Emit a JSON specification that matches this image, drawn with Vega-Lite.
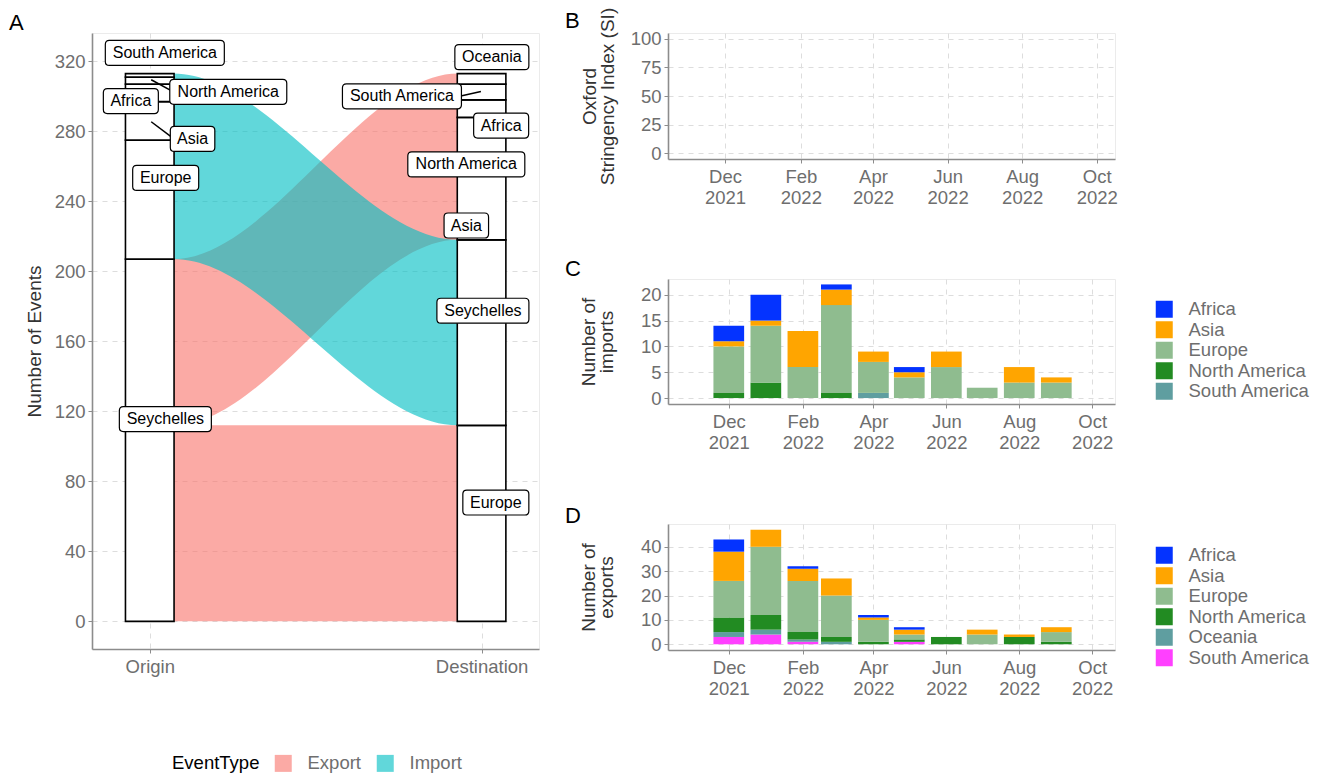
{
  "$schema": "https://vega.github.io/schema/vega-lite/v6.json",
  "padding": {"left": 8, "top": 6, "right": 5, "bottom": 0},
  "config": {
    "font": "Liberation Sans",
    "view": {"stroke": "#ebebeb"},
    "axis": {"labelFontSize": 18.5, "labelColor": "#6e6e6e", "titleFontSize": 19, "titleFontWeight": "normal", "titleColor": "#333333", "gridDash": [5, 5], "gridColor": "#dddddd", "domainColor": "#8c8c8c", "domainWidth": 1.6, "tickColor": "#8c8c8c", "tickSize": 4, "labelPadding": 3},
    "title": {"fontSize": 22, "fontWeight": "normal", "color": "black", "anchor": "start", "frame": "group", "offset": 0},
    "legend": {"labelFontSize": 18.5, "labelColor": "#6e6e6e", "titleFontSize": 18.5, "titleFontWeight": "normal", "titleColor": "black", "symbolType": "square", "symbolSize": 289, "symbolStrokeWidth": 0}
  },
  "datasets": {
    "flows": [
      {"flow": "Seychelles to Europe", "EventType": "Export", "x": 1, "y": 0, "y2": 112},
      {"flow": "Seychelles to Europe", "EventType": "Export", "x": 1.0714, "y": 0, "y2": 112},
      {"flow": "Seychelles to Europe", "EventType": "Export", "x": 1.9286, "y": 0, "y2": 112},
      {"flow": "Seychelles to Europe", "EventType": "Export", "x": 2, "y": 0, "y2": 112},
      {"flow": "Seychelles to other regions", "EventType": "Export", "x": 1, "y": 112, "y2": 207},
      {"flow": "Seychelles to other regions", "EventType": "Export", "x": 1.0714, "y": 112, "y2": 207},
      {"flow": "Seychelles to other regions", "EventType": "Export", "x": 1.9286, "y": 218, "y2": 313},
      {"flow": "Seychelles to other regions", "EventType": "Export", "x": 2, "y": 218, "y2": 313},
      {"flow": "Regions to Seychelles", "EventType": "Import", "x": 1, "y": 207, "y2": 313},
      {"flow": "Regions to Seychelles", "EventType": "Import", "x": 1.0714, "y": 207, "y2": 313},
      {"flow": "Regions to Seychelles", "EventType": "Import", "x": 1.9286, "y": 112, "y2": 218},
      {"flow": "Regions to Seychelles", "EventType": "Import", "x": 2, "y": 112, "y2": 218}
    ],
    "strata": [
      {"x": 1, "stratum": "Seychelles", "y": 0, "y2": 207},
      {"x": 1, "stratum": "Europe", "y": 207, "y2": 275},
      {"x": 1, "stratum": "Asia", "y": 275, "y2": 297},
      {"x": 1, "stratum": "Africa", "y": 297, "y2": 307},
      {"x": 1, "stratum": "North America", "y": 307, "y2": 311},
      {"x": 1, "stratum": "South America", "y": 311, "y2": 313},
      {"x": 2, "stratum": "Europe", "y": 0, "y2": 112},
      {"x": 2, "stratum": "Seychelles", "y": 112, "y2": 218},
      {"x": 2, "stratum": "Asia", "y": 218, "y2": 261},
      {"x": 2, "stratum": "North America", "y": 261, "y2": 288},
      {"x": 2, "stratum": "Africa", "y": 288, "y2": 298},
      {"x": 2, "stratum": "South America", "y": 298, "y2": 307},
      {"x": 2, "stratum": "Oceania", "y": 307, "y2": 313}
    ],
    "leaders": [
      {"x": 1.0044, "y": 309.5, "x2": 1.063, "y2": 303.4},
      {"x": 1.0044, "y": 285.5, "x2": 1.063, "y2": 277.1},
      {"x": 1.934, "y": 300.0, "x2": 1.998, "y2": 302.8}
    ],
    "labels": [
      {"label": "South America", "x": 1.0454, "y": 324.8},
      {"label": "North America", "x": 1.2366, "y": 302.6},
      {"label": "Africa", "x": 0.943, "y": 297.3},
      {"label": "Asia", "x": 1.129, "y": 275.7},
      {"label": "Europe", "x": 1.048, "y": 253.4},
      {"label": "Seychelles", "x": 1.047, "y": 115.6},
      {"label": "Oceania", "x": 2.031, "y": 322.4},
      {"label": "South America", "x": 1.760, "y": 300.0},
      {"label": "Africa", "x": 2.059, "y": 283.3},
      {"label": "North America", "x": 1.954, "y": 261.1},
      {"label": "Asia", "x": 1.954, "y": 226.2},
      {"label": "Seychelles", "x": 2.004, "y": 177.5},
      {"label": "Europe", "x": 2.043, "y": 67.9}
    ],
    "imports": [
      {"month": "2021-12-01", "region": "North America", "n": 1},
      {"month": "2021-12-01", "region": "Europe", "n": 9},
      {"month": "2021-12-01", "region": "Asia", "n": 1},
      {"month": "2021-12-01", "region": "Africa", "n": 3},
      {"month": "2022-01-01", "region": "North America", "n": 3},
      {"month": "2022-01-01", "region": "Europe", "n": 11},
      {"month": "2022-01-01", "region": "Asia", "n": 1},
      {"month": "2022-01-01", "region": "Africa", "n": 5},
      {"month": "2022-02-01", "region": "Europe", "n": 6},
      {"month": "2022-02-01", "region": "Asia", "n": 7},
      {"month": "2022-03-01", "region": "North America", "n": 1},
      {"month": "2022-03-01", "region": "Europe", "n": 17},
      {"month": "2022-03-01", "region": "Asia", "n": 3},
      {"month": "2022-03-01", "region": "Africa", "n": 1},
      {"month": "2022-04-01", "region": "South America", "n": 1},
      {"month": "2022-04-01", "region": "Europe", "n": 6},
      {"month": "2022-04-01", "region": "Asia", "n": 2},
      {"month": "2022-05-01", "region": "Europe", "n": 4},
      {"month": "2022-05-01", "region": "Asia", "n": 1},
      {"month": "2022-05-01", "region": "Africa", "n": 1},
      {"month": "2022-06-01", "region": "Europe", "n": 6},
      {"month": "2022-06-01", "region": "Asia", "n": 3},
      {"month": "2022-07-01", "region": "Europe", "n": 2},
      {"month": "2022-08-01", "region": "Europe", "n": 3},
      {"month": "2022-08-01", "region": "Asia", "n": 3},
      {"month": "2022-09-01", "region": "Europe", "n": 3},
      {"month": "2022-09-01", "region": "Asia", "n": 1}
    ],
    "exports": [
      {"month": "2021-12-01", "region": "South America", "n": 3},
      {"month": "2021-12-01", "region": "Oceania", "n": 2},
      {"month": "2021-12-01", "region": "North America", "n": 6},
      {"month": "2021-12-01", "region": "Europe", "n": 15},
      {"month": "2021-12-01", "region": "Asia", "n": 12},
      {"month": "2021-12-01", "region": "Africa", "n": 5},
      {"month": "2022-01-01", "region": "South America", "n": 4},
      {"month": "2022-01-01", "region": "Oceania", "n": 2},
      {"month": "2022-01-01", "region": "North America", "n": 6},
      {"month": "2022-01-01", "region": "Europe", "n": 28},
      {"month": "2022-01-01", "region": "Asia", "n": 7},
      {"month": "2022-02-01", "region": "South America", "n": 1},
      {"month": "2022-02-01", "region": "Oceania", "n": 1},
      {"month": "2022-02-01", "region": "North America", "n": 3},
      {"month": "2022-02-01", "region": "Europe", "n": 21},
      {"month": "2022-02-01", "region": "Asia", "n": 5},
      {"month": "2022-02-01", "region": "Africa", "n": 1},
      {"month": "2022-03-01", "region": "Oceania", "n": 1},
      {"month": "2022-03-01", "region": "North America", "n": 2},
      {"month": "2022-03-01", "region": "Europe", "n": 17},
      {"month": "2022-03-01", "region": "Asia", "n": 7},
      {"month": "2022-04-01", "region": "North America", "n": 1},
      {"month": "2022-04-01", "region": "Europe", "n": 9},
      {"month": "2022-04-01", "region": "Asia", "n": 1},
      {"month": "2022-04-01", "region": "Africa", "n": 1},
      {"month": "2022-05-01", "region": "South America", "n": 1},
      {"month": "2022-05-01", "region": "North America", "n": 1},
      {"month": "2022-05-01", "region": "Europe", "n": 2},
      {"month": "2022-05-01", "region": "Asia", "n": 2},
      {"month": "2022-05-01", "region": "Africa", "n": 1},
      {"month": "2022-06-01", "region": "North America", "n": 3},
      {"month": "2022-07-01", "region": "Europe", "n": 4},
      {"month": "2022-07-01", "region": "Asia", "n": 2},
      {"month": "2022-08-01", "region": "North America", "n": 3},
      {"month": "2022-08-01", "region": "Asia", "n": 1},
      {"month": "2022-09-01", "region": "North America", "n": 1},
      {"month": "2022-09-01", "region": "Europe", "n": 4},
      {"month": "2022-09-01", "region": "Asia", "n": 2}
    ]
  },
  "resolve": {"scale": {"x": "independent", "y": "independent", "color": "independent", "shape": "independent"}, "legend": {"color": "independent"}},
  "spacing": 24,
  "hconcat": [
    {
      "title": {"text": "A", "dx": -83, "dy": 6},
      "width": 447,
      "height": 616,
      "layer": [
        {
          "data": {"name": "flows"},
          "mark": {"type": "area", "interpolate": "monotone", "opacity": 0.62},
          "encoding": {
            "x": {"field": "x", "type": "quantitative", "scale": {"domain": [0.841, 2.158], "nice": false, "zero": false}, "axis": {"values": [1, 2], "labelExpr": "datum.value == 1 ? 'Origin' : 'Destination'", "title": null, "grid": true, "labelPadding": 4}},
            "y": {"field": "y", "type": "quantitative", "stack": null, "scale": {"domain": [-15.8, 336.2], "nice": false, "zero": false}, "axis": {"values": [0, 40, 80, 120, 160, 200, 240, 280, 320], "title": "Number of Events", "titlePadding": 10}},
            "y2": {"field": "y2"},
            "detail": {"field": "flow"},
            "color": {"field": "EventType", "type": "nominal", "scale": {"domain": ["Export", "Import"], "range": ["#F8766D", "#00BFC4"]},
              "legend": {"orient": "none", "legendX": 80, "legendY": 721, "direction": "horizontal", "titleOrient": "left", "title": "EventType", "titlePadding": 14, "labelOffset": 15, "columnPadding": 15, "symbolOpacity": 0.62}}
          }
        },
        {
          "data": {"name": "strata"},
          "mark": {"type": "bar", "width": 48.6, "fill": "white", "stroke": "black", "strokeWidth": 1.6},
          "encoding": {
            "x": {"field": "x", "type": "quantitative"},
            "y": {"field": "y", "type": "quantitative"},
            "y2": {"field": "y2"}
          }
        },
        {
          "data": {"name": "leaders"},
          "mark": {"type": "rule", "color": "black", "strokeWidth": 1.5},
          "encoding": {
            "x": {"field": "x", "type": "quantitative"},
            "x2": {"field": "x2"},
            "y": {"field": "y", "type": "quantitative"},
            "y2": {"field": "y2"}
          }
        },
        {
          "data": {"name": "labels"},
          "mark": {"type": "point", "filled": true, "fill": "white", "stroke": "black", "strokeWidth": 1.2, "size": 14400, "opacity": 1, "fillOpacity": 1, "strokeOpacity": 1},
          "encoding": {
            "x": {"field": "x", "type": "quantitative"},
            "y": {"field": "y", "type": "quantitative"},
            "shape": {"field": "label", "type": "nominal", "legend": null,
              "scale": {"domain": ["South America", "North America", "Africa", "Asia", "Europe", "Seychelles", "Oceania"],
                "range": [
                  "M-0.925,-0.2083H0.925Q0.9917,-0.2083,0.9917,-0.1417V0.1417Q0.9917,0.2083,0.925,0.2083H-0.925Q-0.9917,0.2083,-0.9917,0.1417V-0.1417Q-0.9917,-0.2083,-0.925,-0.2083Z",
                  "M-0.9083,-0.2083H0.9083Q0.975,-0.2083,0.975,-0.1417V0.1417Q0.975,0.2083,0.9083,0.2083H-0.9083Q-0.975,0.2083,-0.975,0.1417V-0.1417Q-0.975,-0.2083,-0.9083,-0.2083Z",
                  "M-0.3917,-0.2083H0.3917Q0.4583,-0.2083,0.4583,-0.1417V0.1417Q0.4583,0.2083,0.3917,0.2083H-0.3917Q-0.4583,0.2083,-0.4583,0.1417V-0.1417Q-0.4583,-0.2083,-0.3917,-0.2083Z",
                  "M-0.3042,-0.2083H0.3042Q0.3708,-0.2083,0.3708,-0.1417V0.1417Q0.3708,0.2083,0.3042,0.2083H-0.3042Q-0.3708,0.2083,-0.3708,0.1417V-0.1417Q-0.3708,-0.2083,-0.3042,-0.2083Z",
                  "M-0.4833,-0.2083H0.4833Q0.55,-0.2083,0.55,-0.1417V0.1417Q0.55,0.2083,0.4833,0.2083H-0.4833Q-0.55,0.2083,-0.55,0.1417V-0.1417Q-0.55,-0.2083,-0.4833,-0.2083Z",
                  "M-0.7,-0.2083H0.7Q0.7667,-0.2083,0.7667,-0.1417V0.1417Q0.7667,0.2083,0.7,0.2083H-0.7Q-0.7667,0.2083,-0.7667,0.1417V-0.1417Q-0.7667,-0.2083,-0.7,-0.2083Z",
                  "M-0.55,-0.2083H0.55Q0.6167,-0.2083,0.6167,-0.1417V0.1417Q0.6167,0.2083,0.55,0.2083H-0.55Q-0.6167,0.2083,-0.6167,0.1417V-0.1417Q-0.6167,-0.2083,-0.55,-0.2083Z"
                ]}}
          }
        },
        {
          "data": {"name": "labels"},
          "mark": {"type": "text", "fontSize": 16, "color": "black", "align": "center", "baseline": "middle"},
          "encoding": {
            "x": {"field": "x", "type": "quantitative"},
            "y": {"field": "y", "type": "quantitative"},
            "text": {"field": "label"}
          }
        }
      ]
    },
    {
      "spacing": 120,
      "bounds": "flush",
      "resolve": {"scale": {"x": "independent", "y": "independent", "color": "independent"}, "legend": {"color": "independent"}},
      "vconcat": [
        {
          "title": {"text": "B", "dx": -103, "dy": 30},
          "width": 447,
          "height": 126,
          "data": {"values": []},
          "mark": "point",
          "encoding": {
            "x": {"field": "date", "type": "temporal", "scale": {"type": "utc", "domain": [{"year": 2021, "month": 10, "date": 15, "hours": 8, "utc": true}, {"year": 2022, "month": 10, "date": 15, "hours": 22, "utc": true}]},
              "axis": {"title": null, "values": [{"year": 2021, "month": 12, "date": 1, "utc": true}, {"year": 2022, "month": 2, "date": 1, "utc": true}, {"year": 2022, "month": 4, "date": 1, "utc": true}, {"year": 2022, "month": 6, "date": 1, "utc": true}, {"year": 2022, "month": 8, "date": 1, "utc": true}, {"year": 2022, "month": 10, "date": 1, "utc": true}],
                "labelExpr": "[utcFormat(datum.value, '%b'), utcFormat(datum.value, '%Y')]", "labelLineHeight": 21, "labelPadding": 4}},
            "y": {"field": "si", "type": "quantitative", "scale": {"domain": [-5, 105], "nice": false, "zero": false}, "axis": {"values": [0, 25, 50, 75, 100], "title": ["Oxford", "Stringency Index (SI)"], "titlePadding": 13, "titleLineHeight": 18}}
          }
        },
        {
          "title": {"text": "C", "dx": -103, "dy": 5.5},
          "width": 447,
          "height": 125,
          "data": {"name": "imports"},
          "mark": {"type": "bar", "width": 30.7},
          "encoding": {
            "x": {"field": "month", "type": "temporal", "scale": {"type": "utc", "domain": [{"year": 2021, "month": 10, "date": 15, "hours": 8, "utc": true}, {"year": 2022, "month": 10, "date": 15, "hours": 22, "utc": true}]},
              "axis": {"title": null, "values": [{"year": 2021, "month": 12, "date": 1, "utc": true}, {"year": 2022, "month": 2, "date": 1, "utc": true}, {"year": 2022, "month": 4, "date": 1, "utc": true}, {"year": 2022, "month": 6, "date": 1, "utc": true}, {"year": 2022, "month": 8, "date": 1, "utc": true}, {"year": 2022, "month": 10, "date": 1, "utc": true}],
                "labelExpr": "[utcFormat(datum.value, '%b'), utcFormat(datum.value, '%Y')]", "labelLineHeight": 21, "labelPadding": 4}},
            "y": {"field": "n", "type": "quantitative", "stack": "zero", "scale": {"domain": [-1.15, 23.05], "nice": false, "zero": false}, "axis": {"values": [0, 5, 10, 15, 20], "title": ["Number of", "imports"], "titlePadding": 24, "titleLineHeight": 18}},
            "color": {"field": "region", "type": "nominal",
              "scale": {"domain": ["Africa", "Asia", "Europe", "North America", "South America"], "range": ["#0433ff", "#ffa500", "#8fbc8f", "#228b22", "#5f9ea0"]},
              "legend": {"orient": "none", "legendX": 487, "legendY": 21, "title": null, "labelOffset": 15, "rowPadding": 1.5}},
            "order": {"field": "region", "sort": "descending"}
          }
        },
        {
          "title": {"text": "D", "dx": -103, "dy": 7.5},
          "width": 447,
          "height": 126,
          "data": {"name": "exports"},
          "mark": {"type": "bar", "width": 30.7},
          "encoding": {
            "x": {"field": "month", "type": "temporal", "scale": {"type": "utc", "domain": [{"year": 2021, "month": 10, "date": 15, "hours": 8, "utc": true}, {"year": 2022, "month": 10, "date": 15, "hours": 22, "utc": true}]},
              "axis": {"title": null, "values": [{"year": 2021, "month": 12, "date": 1, "utc": true}, {"year": 2022, "month": 2, "date": 1, "utc": true}, {"year": 2022, "month": 4, "date": 1, "utc": true}, {"year": 2022, "month": 6, "date": 1, "utc": true}, {"year": 2022, "month": 8, "date": 1, "utc": true}, {"year": 2022, "month": 10, "date": 1, "utc": true}],
                "labelExpr": "[utcFormat(datum.value, '%b'), utcFormat(datum.value, '%Y')]", "labelLineHeight": 21, "labelPadding": 4}},
            "y": {"field": "n", "type": "quantitative", "stack": "zero", "scale": {"domain": [-2.35, 49.35], "nice": false, "zero": false}, "axis": {"values": [0, 10, 20, 30, 40], "title": ["Number of", "exports"], "titlePadding": 24, "titleLineHeight": 18}},
            "color": {"field": "region", "type": "nominal",
              "scale": {"domain": ["Africa", "Asia", "Europe", "North America", "Oceania", "South America"], "range": ["#0433ff", "#ffa500", "#8fbc8f", "#228b22", "#5f9ea0", "#ff40ff"]},
              "legend": {"orient": "none", "legendX": 487, "legendY": 22, "title": null, "labelOffset": 15, "rowPadding": 1.5}},
            "order": {"field": "region", "sort": "descending"}
          }
        }
      ]
    }
  ]
}
